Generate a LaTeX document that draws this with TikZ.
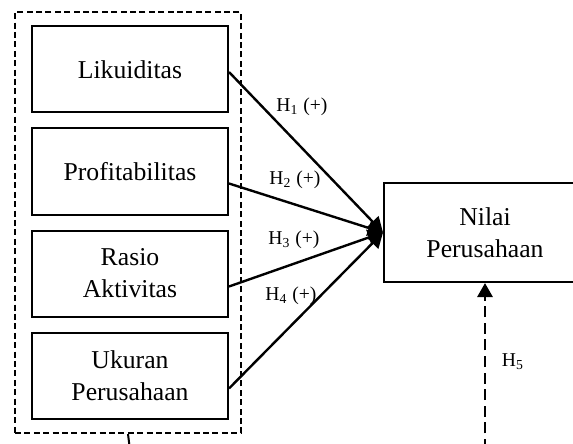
\documentclass[tikz,border=0pt]{standalone}
\usepackage{fontspec}
\setmainfont{Liberation Serif}
\usepackage{tikz}
\usetikzlibrary{arrows.meta,positioning,fit}

\tikzset{
  varbox/.style={draw, line width=1pt, minimum width=98pt, minimum height=43pt,
    align=center, font=\fontsize{12.85}{16}\selectfont},
  grpbox/.style={draw, line width=1pt, dash pattern=on 3pt off 1.7pt},
  hyp/.style={font=\fontsize{9.8}{11}\selectfont, inner sep=0pt},
  effect/.style={line width=1.2pt, -{Triangle[length=7.5pt,width=8pt]}},
  moder/.style={line width=1.4pt, dash pattern=on 5.5pt off 2.8pt}
}

\begin{document}
\begin{tikzpicture}[x=0.5pt, y=-0.5pt, node distance=7pt]
    \clip (0,0) rectangle (573,444);
    % independent variables
    \node[varbox] (lik) at (130,69.5) {Likuiditas};
    \node[varbox, below=of lik] (prof) {Profitabilitas};
    \node[varbox, below=of prof] (ras) {Rasio\\Aktivitas};
    \node[varbox, below=of ras] (uk) {Ukuran\\Perusahaan};
    \node[grpbox, fit=(lik)(uk), inner xsep=7pt, inner ysep=6.75pt, xshift=-1pt] (grp) {};
    % dependent variable
    \node[varbox, minimum width=101pt, minimum height=49.5pt] (nilai) at (485,232.5) {Nilai\\Perusahaan};
    % hypotheses
    \draw[effect] ([yshift=-1.25pt]lik.east) -- (nilai.west);
    \draw[effect] ([yshift=-6pt]prof.east) -- (nilai.west);
    \draw[effect] ([yshift=-6.5pt]ras.east) -- (nilai.west);
    \draw[effect] ([yshift=-6.5pt]uk.east) -- (nilai.west);
    \node[hyp] (h1) at (302,107) {H\textsubscript{1} (+)};
    \node[hyp] (h2) at (295,180) {H\textsubscript{2} (+)};
    \node[hyp] (h3) at (294,240) {H\textsubscript{3} (+)};
    \node[hyp] (h4) at (291,296) {H\textsubscript{4} (+)};
    % moderation
    \coordinate (grpout) at (130,450);
    \coordinate (modin) at (485,450);
    \draw[grpbox, solid] (grp.south) -- (grpout);
    \draw[moder, -{Triangle[length=7pt,width=7.5pt]}] (modin) -- (nilai.south);
    \node[hyp] (h5) at (513,362) {H\textsubscript{5}};
\end{tikzpicture}
\end{document}
